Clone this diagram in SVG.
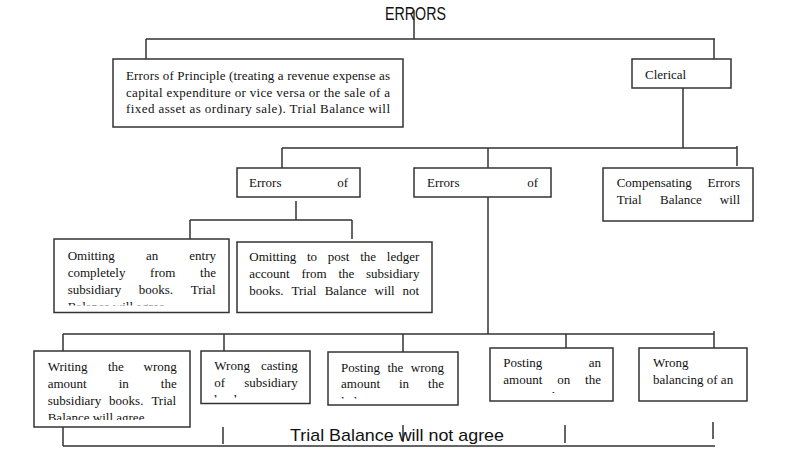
<svg xmlns="http://www.w3.org/2000/svg" width="799" height="467" viewBox="0 0 799 467">
<defs>
<style>
.t{font-family:"Liberation Serif","Times New Roman",serif;font-size:13px;fill:#111}
.g{font-family:"Liberation Sans",Arial,sans-serif;fill:#111}
.box{fill:#fff;stroke:#333;stroke-width:1.5}
.ln{stroke:#333;stroke-width:1.5;fill:none}
</style>
<clipPath id="c-omit1"><rect x="55" y="240" width="173" height="65.5"/></clipPath>
<clipPath id="c-write"><rect x="35" y="352" width="154" height="68"/></clipPath>
<clipPath id="c-cast"><rect x="202" y="352" width="107" height="45.5"/></clipPath>
<clipPath id="c-postw"><rect x="329" y="353" width="128" height="45.5"/></clipPath>
<clipPath id="c-posta"><rect x="491" y="349" width="122" height="44"/></clipPath>
<clipPath id="c-bal"><rect x="640" y="349" width="107" height="44"/></clipPath>
</defs>
<rect width="799" height="467" fill="#fff"/>

<g id="connectors">
<path class="ln" d="M414,10 V39 M146,39 H715 M146,39 V59 M714,39 V59"/>
<path class="ln" d="M683,88 V148 M282,148 H737 M282,148 V168 M488,148 V168 M737,146 V166"/>
<path class="ln" d="M296,201 V220 M190,220 H352 M190,220 V239 M352,220 V239"/>
<path class="ln" d="M488,197 V334 M63,334 H714 M63,334 V351 M224,334 V351 M403,334 V352 M566,334 V348 M714,331 V348"/>
<path class="ln" d="M63,426 V446 M223,427 V444 M403,425 V442 M565,425 V443 M713,422 V439 M63,446 H715"/>
</g>

<g id="title"><text class="g" x="385" y="20" font-size="18" textLength="61" lengthAdjust="spacingAndGlyphs">ERRORS</text></g>

<g id="principle">
<rect class="box" x="113" y="59" width="290" height="68"/>
<text class="t" x="126" y="80" textLength="264" lengthAdjust="spacing">Errors of Principle (treating a revenue expense as</text>
<text class="t" x="126" y="97" textLength="264" lengthAdjust="spacing">capital expenditure or vice versa or the sale of a</text>
<text class="t" x="126" y="113" textLength="264" lengthAdjust="spacing">fixed asset as ordinary sale).  Trial Balance will</text>
</g>

<g id="clerical">
<rect class="box" x="632" y="59" width="99" height="29"/>
<text class="t" x="645" y="79">Clerical</text>
</g>

<g id="omission">
<rect class="box" x="237" y="168" width="123" height="29"/>
<text class="t" y="187"><tspan x="249">Errors</tspan><tspan x="337.2">of</tspan></text>
</g>

<g id="commission">
<rect class="box" x="414" y="168" width="137" height="29"/>
<text class="t" y="187"><tspan x="427">Errors</tspan><tspan x="527.2">of</tspan></text>
</g>

<g id="compensating">
<rect class="box" x="603" y="168" width="150" height="53"/>
<text class="t" y="187"><tspan x="616.7">Compensating</tspan><tspan x="707.5">Errors</tspan></text>
<text class="t" y="204"><tspan x="616.7">Trial</tspan><tspan x="660">Balance</tspan><tspan x="719.8">will</tspan></text>
</g>

<g id="omit-entry">
<rect class="box" x="54" y="239" width="175" height="73.5"/>
<g clip-path="url(#c-omit1)">
<text class="t" y="260"><tspan x="67.7">Omitting</tspan><tspan x="145.9">an</tspan><tspan x="189.3">entry</tspan></text>
<text class="t" y="277"><tspan x="67.7">completely</tspan><tspan x="150.1">from</tspan><tspan x="200.1">the</tspan></text>
<text class="t" y="294"><tspan x="67.7">subsidiary</tspan><tspan x="138.8">books.</tspan><tspan x="190.7">Trial</tspan></text>
<text class="t" x="67.7" y="311">Balance will agree</text>
</g>
</g>

<g id="omit-post">
<rect class="box" x="237" y="242" width="195" height="70.5"/>
<text class="t" y="260.5"><tspan x="249.3">Omitting</tspan><tspan x="307">to</tspan><tspan x="327.8">post</tspan><tspan x="360.2">the</tspan><tspan x="386.8">ledger</tspan></text>
<text class="t" y="277.5"><tspan x="249.3">account</tspan><tspan x="301.4">from</tspan><tspan x="338.4">the</tspan><tspan x="366">subsidiary</tspan></text>
<text class="t" y="294.5"><tspan x="249.3">books.</tspan><tspan x="291.5">Trial</tspan><tspan x="324.7">Balance</tspan><tspan x="374.5">will</tspan><tspan x="402.6">not</tspan></text>
</g>

<g id="write-wrong">
<rect class="box" x="34" y="351" width="156" height="76"/>
<g clip-path="url(#c-write)">
<text class="t" y="371"><tspan x="47.7">Writing</tspan><tspan x="107.9">the</tspan><tspan x="143.5">wrong</tspan></text>
<text class="t" y="388"><tspan x="47.7">amount</tspan><tspan x="118.7">in</tspan><tspan x="160.8">the</tspan></text>
<text class="t" y="405"><tspan x="47.7">subsidiary</tspan><tspan x="109.1">books.</tspan><tspan x="151.4">Trial</tspan></text>
<text class="t" x="47.7" y="422">Balance will agree</text>
</g>
</g>

<g id="wrong-casting">
<rect class="box" x="201" y="351" width="109" height="52.5"/>
<g clip-path="url(#c-cast)">
<text class="t" y="370"><tspan x="214.3">Wrong</tspan><tspan x="260.9">casting</tspan></text>
<text class="t" y="387"><tspan x="214.3">of</tspan><tspan x="244.3">subsidiary</tspan></text>
<text class="t" x="214.3" y="404">books</text>
</g>
</g>

<g id="post-wrong">
<rect class="box" x="328" y="352" width="130" height="53"/>
<g clip-path="url(#c-postw)">
<text class="t" y="371.7"><tspan x="341">Posting</tspan><tspan x="387.5">the</tspan><tspan x="410.8">wrong</tspan></text>
<text class="t" y="388.3"><tspan x="341">amount</tspan><tspan x="399">in</tspan><tspan x="428.1">the</tspan></text>
<text class="t" x="341" y="406">ledger</text>
</g>
</g>

<g id="post-amount">
<rect class="box" x="490" y="348" width="123" height="53"/>
<g clip-path="url(#c-posta)">
<text class="t" y="367"><tspan x="503.3">Posting</tspan><tspan x="588.7">an</tspan></text>
<text class="t" y="384"><tspan x="503.3">amount</tspan><tspan x="557.2">on</tspan><tspan x="585.1">the</tspan></text>
<text class="t" x="503.3" y="401">wrong side</text>
</g>
</g>

<g id="wrong-balancing">
<rect class="box" x="639" y="348" width="108" height="53"/>
<g clip-path="url(#c-bal)">
<text class="t" x="653" y="367">Wrong</text>
<text class="t" x="653" y="384">balancing of an</text>
<text class="t" x="653" y="401">account</text>
</g>
</g>

<g id="bottom-label"><text class="g" x="290" y="441" font-size="17" textLength="214" lengthAdjust="spacingAndGlyphs">Trial Balance will not agree</text></g>
</svg>
